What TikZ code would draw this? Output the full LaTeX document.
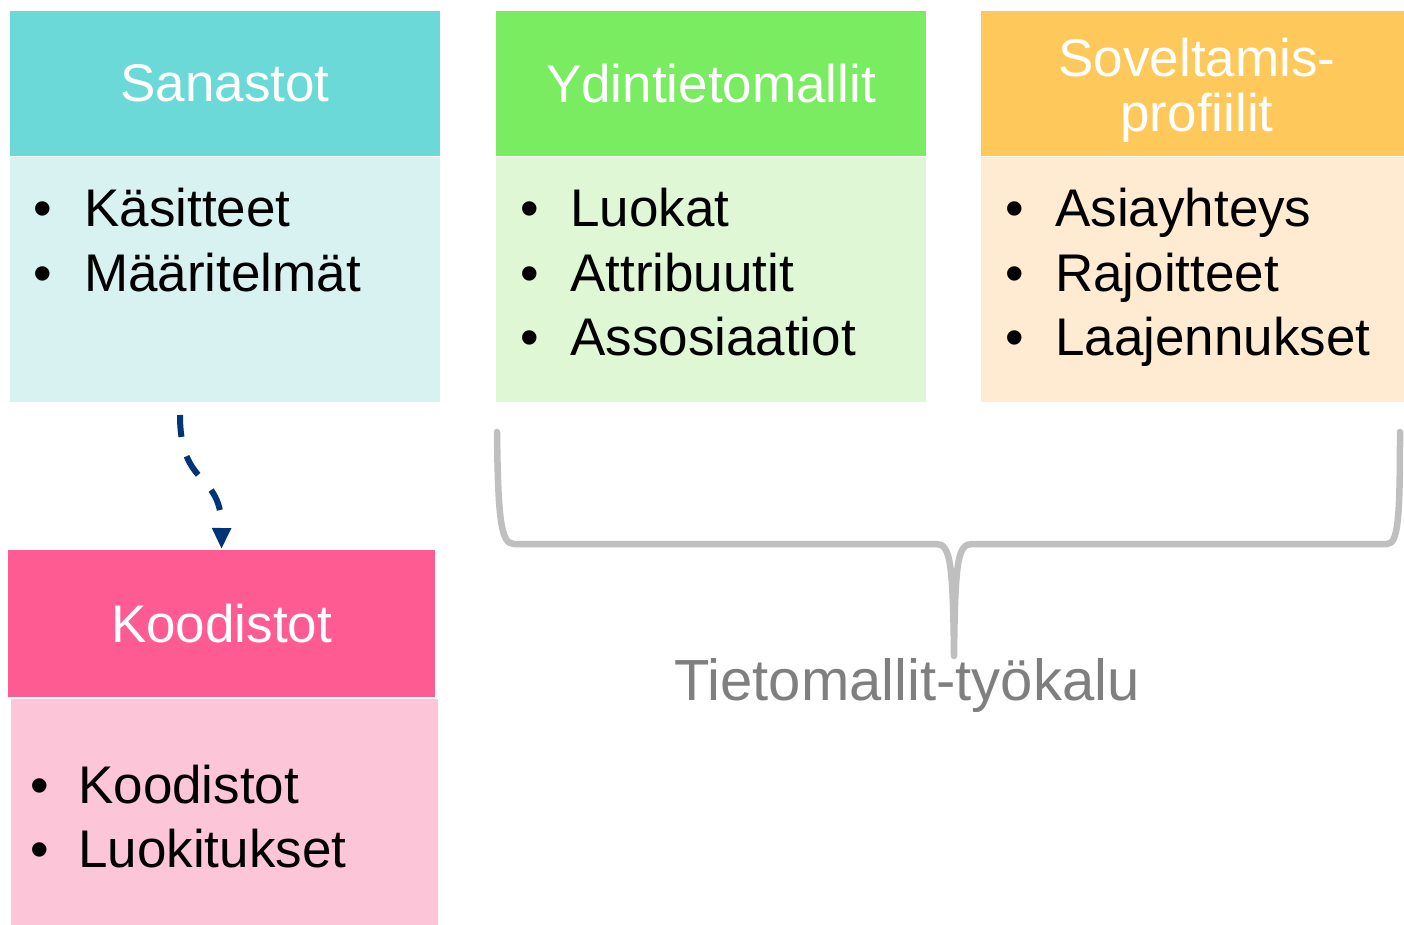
\documentclass[tikz,border=0pt]{standalone}
\usepackage{fontspec}
\setmainfont{Liberation Sans}
\usetikzlibrary{arrows.meta}
\definecolor{sanH}{HTML}{6AD9D7}
\definecolor{sanB}{HTML}{D8F2F2}
\definecolor{ydiH}{HTML}{7AEC62}
\definecolor{ydiB}{HTML}{DFF7D5}
\definecolor{sovH}{HTML}{FFC85A}
\definecolor{sovB}{HTML}{FFEBD2}
\definecolor{kooH}{HTML}{FF5B93}
\definecolor{kooB}{HTML}{FDC6D8}
\definecolor{arrowblue}{HTML}{003479}
\definecolor{bracegray}{HTML}{BFBFBF}
\definecolor{labelgray}{HTML}{7F7F7F}
\begin{document}
\begin{tikzpicture}[x=1pt,y=-1pt,
  hdrbox/.style={rectangle,inner sep=0pt,outer sep=0pt,text=white,
    font=\fontsize{53}{61}\selectfont,align=center},
  bodybox/.style={rectangle,inner sep=0pt,outer sep=0pt},
  itemtext/.style={anchor=base west,inner sep=0pt,font=\fontsize{53}{61}\selectfont},
  bullettext/.style={anchor=base,inner sep=0pt,font=\fontsize{53}{61}\selectfont},
  dasharrow/.style={arrowblue,line width=6pt,dash pattern=on 22pt off 20pt,
    -{Triangle[length=21pt,width=18pt]}},
  bracestyle/.style={bracegray,line width=6.5pt,line join=round,line cap=round}]
\useasboundingbox (0,0) rectangle (1404,925);
\fill[white] (0,0) rectangle (1404,925);

% Sanastot
\node[hdrbox,fill=sanH,minimum width=430pt,minimum height=145pt] (sanHd) at (225,83.5) {Sanastot};
\node[bodybox,fill=sanB,minimum width=430pt,minimum height=245pt] (sanBd) at (225,279.5) {};
\node[bullettext] (sb1) at (43,227) {•};
\node[itemtext] (st1) at (84,227) {Käsitteet};
\node[bullettext] (sb2) at (43,291) {•};
\node[itemtext] (st2) at (84,291) {Määritelmät};

% Ydintietomallit
\node[hdrbox,fill=ydiH,minimum width=430pt,minimum height=145pt] (ydiHd) at (711,83.5) {Ydintietomallit};
\node[bodybox,fill=ydiB,minimum width=430pt,minimum height=245pt] (ydiBd) at (711,279.5) {};
\node[bullettext] (yb1) at (530,227) {•};
\node[itemtext] (yt1) at (570,227) {Luokat};
\node[bullettext] (yb2) at (530,291) {•};
\node[itemtext] (yt2) at (570,291) {Attribuutit};
\node[bullettext] (yb3) at (530,355) {•};
\node[itemtext] (yt3) at (570,355) {Assosiaatiot};

% Soveltamisprofiilit
\node[hdrbox,fill=sovH,minimum width=423pt,minimum height=145pt] (sovHd) at (1192.5,83.5) {};
\node[anchor=base,inner sep=0pt,text=white,font=\fontsize{53}{61}\selectfont] (sovL1) at (1197,77) {Soveltamis-};
\node[anchor=base,inner sep=0pt,text=white,font=\fontsize{53}{61}\selectfont] (sovL2) at (1197,132) {profiilit};
\node[bodybox,fill=sovB,minimum width=423pt,minimum height=245pt] (sovBd) at (1192.5,279.5) {};
\node[bullettext] (ob1) at (1015,227) {•};
\node[itemtext] (ot1) at (1055,227) {Asiayhteys};
\node[bullettext] (ob2) at (1015,291) {•};
\node[itemtext] (ot2) at (1055,291) {Rajoitteet};
\node[bullettext] (ob3) at (1015,355) {•};
\node[itemtext] (ot3) at (1055,355) {Laajennukset};

% Koodistot
\node[hdrbox,fill=kooH,minimum width=427pt,minimum height=147pt] (kooHd) at (221.5,623.5) {Koodistot};
\node[bodybox,fill=kooB,minimum width=427pt,minimum height=226pt] (kooBd) at (224.5,812) {};
\node[bullettext] (kb1) at (40,803) {•};
\node[itemtext] (kt1) at (78,803) {Koodistot};
\node[bullettext] (kb2) at (40,867) {•};
\node[itemtext] (kt2) at (78,867) {Luokitukset};

% dashed arrow
\coordinate (arrStart) at ([xshift=-45pt,yshift=-13pt]sanBd.south);
\draw[dasharrow] (arrStart) .. controls (180,490) and (222,470) .. ([yshift=1pt]kooHd.north);

% brace
\draw[bracestyle] (497,432) .. controls (498,520) and (501,544) .. (514,544)
  -- (936,544) .. controls (950,544) and (953,560) .. (954,656)
  .. controls (955,560) and (958,544) .. (972,544)
  -- (1387,544) .. controls (1398,544) and (1400,520) .. (1400,432);
\node[anchor=base,inner sep=0pt,text=labelgray,font=\fontsize{58}{66}\selectfont] (tool) at (907,700) {Tietomallit-työkalu};
\end{tikzpicture}
\end{document}
